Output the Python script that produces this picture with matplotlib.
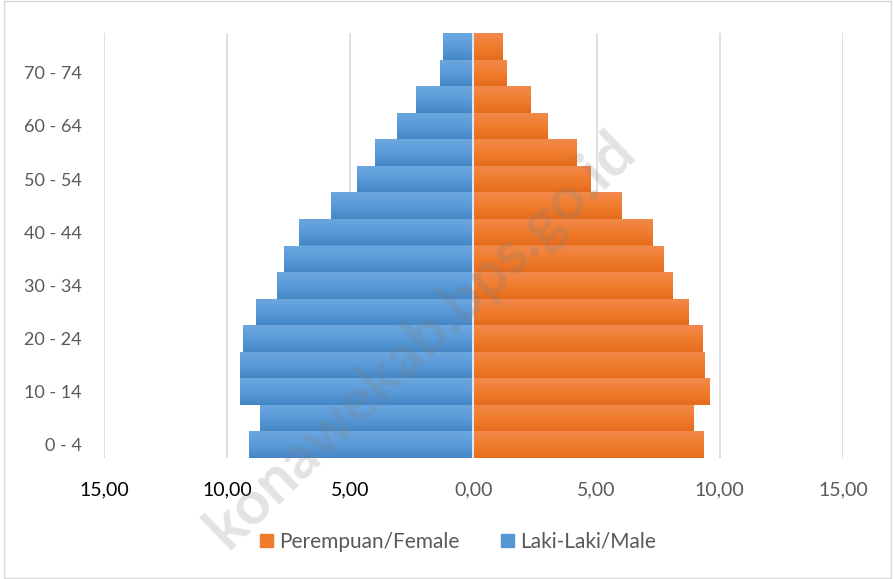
import matplotlib
matplotlib.use("Agg")
import matplotlib.pyplot as plt
import numpy as np
from matplotlib.colors import LinearSegmentedColormap
from matplotlib.patches import Patch

age_groups = ["0 - 4", "5 - 9", "10 - 14", "15 - 19", "20 - 24", "25 - 29", "30 - 34",
              "35 - 39", "40 - 44", "45 - 49", "50 - 54", "55 - 59", "60 - 64",
              "65 - 69", "70 - 74", "75+"]
male = [9.11, 8.66, 9.47, 9.47, 9.35, 8.82, 7.99, 7.68, 7.07, 5.77, 4.72, 3.98, 3.09, 2.32, 1.38, 1.22]
female = [9.35, 8.94, 9.59, 9.39, 9.31, 8.74, 8.09, 7.72, 7.28, 6.02, 4.76, 4.19, 3.01, 2.32, 1.34, 1.18]
xticks = [-15, -10, -5, 0, 5, 10, 15]
xtick_labels = ["15,00", "10,00", "5,00", "0,00", "5,00", "10,00", "15,00"]

plt.rcParams['font.family'] = ['Lato', 'DejaVu Sans']

fig = plt.figure(figsize=(8.95, 5.79), dpi=100)
ax = fig.add_axes([104/895, 1-458/579, (843-104)/895, (458-33)/579])

y = np.arange(len(age_groups))
blue_cmap = LinearSegmentedColormap.from_list("b", ["#4587C6", "#5A9BDA", "#6CA7DF"])
orange_cmap = LinearSegmentedColormap.from_list("o", ["#E56C1C", "#F07D2E", "#F28A4C"])

mbars = ax.barh(y, [-v for v in male], height=1.0, color="#5596D5", zorder=3)
fbars = ax.barh(y, female, height=1.0, color="#EF7B2C", zorder=3)

grad = np.linspace(0, 1, 64).reshape(-1, 1)
for bars, cmap in ((mbars, blue_cmap), (fbars, orange_cmap)):
    for b in bars:
        x0, y0, w, h = b.get_x(), b.get_y(), b.get_width(), b.get_height()
        xa, xb = min(x0, x0 + w), max(x0, x0 + w)
        im = ax.imshow(grad, extent=(xa, xb, y0, y0 + h), origin="lower",
                       cmap=cmap, aspect="auto", zorder=3.5)
        im.set_clip_path(b)

ax.axvline(0, color="#DCE6F2", lw=1.5, zorder=4)

ax.set_xlim(-15, 15)
ax.set_ylim(-0.5, len(age_groups) - 0.5)
ax.set_xticks(xticks)
ax.set_xticklabels(xtick_labels, fontsize=14)
for i, lab in enumerate(ax.get_xticklabels()):
    lab.set_color("#000000" if i < 3 else "#595959")
ax.set_yticks(y[::2])
ax.set_yticklabels(age_groups[::2], fontsize=13, color="#595959")
ax.tick_params(axis="both", length=0)
ax.tick_params(axis="y", pad=16)
ax.tick_params(axis="x", pad=17)
ax.grid(axis="x", color="#D9D9D9", lw=1.2, zorder=0)
ax.set_axisbelow(True)
for s in ax.spines.values():
    s.set_visible(False)

handles = [Patch(color="#EF7B2C"), Patch(color="#5596D5")]
fig.legend(handles, ["Perempuan/Female", "Laki-Laki/Male"], loc="center",
           bbox_to_anchor=(458/895, 1-542/579), ncol=2, frameon=False,
           fontsize=15, labelcolor="#595959", handlelength=0.6, handleheight=0.6,
           handletextpad=0.3, columnspacing=2.0)

fig.text(420/895, 1-340/579, "konawekab.bps.go.id", rotation=44, ha="center", va="center",
         fontsize=44, fontweight="bold", color="#808080", alpha=0.22, zorder=10)

border = plt.Rectangle((0.004, 0.002), 0.992, 0.996, transform=fig.transFigure,
                       fill=False, edgecolor="#D9D9D9", lw=1)
fig.patches.append(border)

fig.savefig("out.png", dpi=100)
